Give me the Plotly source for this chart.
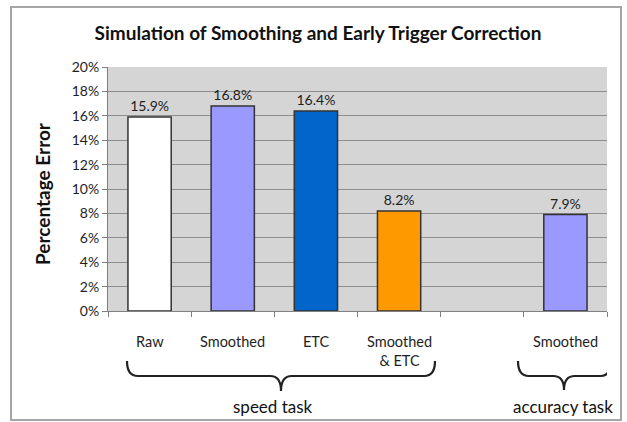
import plotly.graph_objects as go

categories = ["Raw", "Smoothed", "ETC", "Smoothed<br>& ETC", "", "Smoothed"]
values = [15.9, 16.8, 16.4, 8.2, None, 7.9]
bar_colors = ["#FFFFFF", "#9999FF", "#0066CC", "#FF9900", "#FFFFFF", "#9999FF"]
value_labels = ["15.9%", "16.8%", "16.4%", "8.2%", "", "7.9%"]
groups = ["speed task", "accuracy task"]
y_ticks = [0, 2, 4, 6, 8, 10, 12, 14, 16, 18, 20]

W, H = 627, 422
L, R, T, B = 108, 20, 67, 111
PH = H - T - B
PW = W - L - R
CAT_PX = PW / len(categories)

def py(px):
    return (H - B - px) / PH

def px_to_x(px):
    return (px - L) / CAT_PX - 0.5

def px_to_paperx(px):
    return (px - L) / PW

FONT = "Lato"
TXT = "#1E1E1E"

xs = list(range(len(categories)))
fig = go.Figure()
fig.add_trace(go.Bar(
    x=xs, y=values, width=0.52,
    marker=dict(color=bar_colors, line=dict(color="#333333", width=1.5)),
    text=value_labels, textposition="outside", cliponaxis=False,
    textfont=dict(family=FONT, size=14, color=TXT),
    hoverinfo="skip",
))

annotations = []
for i, c in enumerate(categories):
    if c:
        annotations.append(dict(x=i, y=py(331), xref="x", yref="paper", text=c,
                                showarrow=False, yanchor="top", xanchor="center",
                                font=dict(family=FONT, size=14.5, color=TXT)))

def brace(x0, x1, xm, ytop, ymid, ybot, dx):
    a, b, c = py(ytop), py(ymid), py(ybot)
    return (f"M {x0},{a} Q {x0},{b} {x0+dx},{b} L {xm-dx},{b} "
            f"Q {xm},{b} {xm},{c} Q {xm},{b} {xm+dx},{b} "
            f"L {x1-dx},{b} Q {x1},{b} {x1},{a}")

shapes = [
    dict(type="path", xref="x", yref="paper",
         path=brace(px_to_x(127), px_to_x(435), px_to_x(281), 361, 376, 391, 0.13),
         line=dict(color="#222222", width=2.2)),
    dict(type="path", xref="x", yref="paper",
         path=brace(px_to_x(518), px_to_x(611), px_to_x(564), 361, 376, 390, 0.13),
         line=dict(color="#222222", width=2.2)),
    dict(type="rect", xref="paper", yref="paper",
         x0=px_to_paperx(11), x1=px_to_paperx(621), y0=py(420), y1=py(7),
         line=dict(color="#A6A6A6", width=2), layer="below"),
]

annotations.append(dict(x=px_to_x(273), y=py(406), xref="x", yref="paper", text=groups[0],
                        showarrow=False, yanchor="middle", xanchor="center",
                        font=dict(family=FONT, size=17, color="#111111")))
annotations.append(dict(x=px_to_x(563), y=py(406), xref="x", yref="paper", text=groups[1],
                        showarrow=False, yanchor="middle", xanchor="center",
                        font=dict(family=FONT, size=17, color="#111111")))
annotations.append(dict(x=px_to_paperx(42), y=py(194), xref="paper", yref="paper",
                        text="<b>Percentage Error</b>", textangle=-90, showarrow=False,
                        xanchor="center", yanchor="middle",
                        font=dict(family=FONT, size=19, color="#111111")))

fig.update_layout(
    width=W, height=H,
    margin=dict(l=L, r=R, t=T, b=B),
    paper_bgcolor="white", plot_bgcolor="#D5D5D5",
    showlegend=False,
    title=dict(text="<b>Simulation of Smoothing and Early Trigger Correction</b>",
               x=318 / W, xanchor="center",
               y=1 - 33 / H, yanchor="middle",
               font=dict(family=FONT, size=19, color="#111111")),
    xaxis=dict(range=[-0.5, len(categories) - 0.5], tickmode="array",
               tickvals=[i - 0.5 for i in range(len(categories) + 1)], ticktext=[""] * (len(categories) + 1),
               ticks="outside", ticklen=5, tickcolor="#808080", showgrid=False,
               showline=True, linecolor="#808080", linewidth=1, zeroline=False),
    yaxis=dict(range=[0, 20], tickmode="array", tickvals=y_ticks,
               ticktext=[f"{v}%" for v in y_ticks],
               ticks="outside", ticklen=5, tickcolor="#808080",
               showline=True, linecolor="#808080", linewidth=1,
               showgrid=True, gridcolor="#8E8E8E", gridwidth=1, zeroline=False,
               tickfont=dict(family=FONT, size=14, color=TXT)),
    annotations=annotations, shapes=shapes,
)

fig.write_html("out.html", config={"displayModeBar": False},
               post_script="document.body.style.margin='0';document.body.style.overflow='hidden';")
